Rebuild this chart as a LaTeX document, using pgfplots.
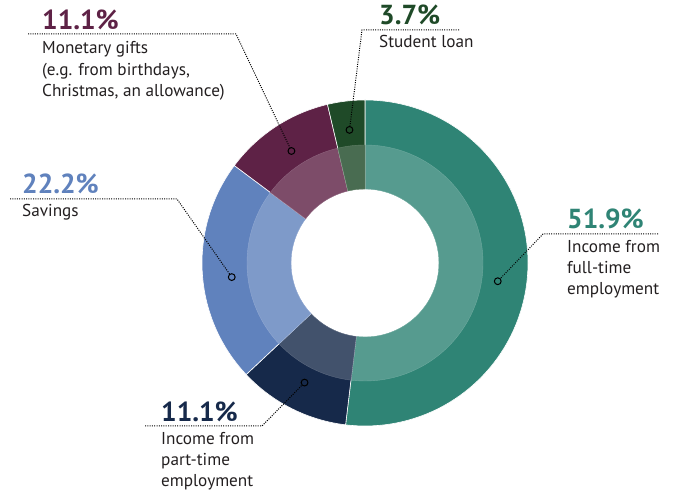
\documentclass[border=0pt]{standalone}
\usepackage{pgfplots}
\pgfplotsset{compat=1.18}
\usepackage{pgfplotstable}
\usepackage{fontspec}
\setmainfont{PT Sans}
\definecolor{col0}{RGB}{47,132,117}
\definecolor{col1}{RGB}{22,41,74}
\definecolor{col2}{RGB}{96,130,189}
\definecolor{col3}{RGB}{94,34,70}
\definecolor{col4}{RGB}{31,74,40}
\definecolor{txt}{RGB}{35,31,32}
\pgfplotstableread{
label value doff
fulltime 51.9 -4.4
parttime 11.1 0
savings 22.2 2.8
gifts 11.1 0
loan 3.7 0
}\piedata
\newcommand{\pct}[1]{\fontsize{27.5}{30}\selectfont\bfseries #1}
\newcommand{\lbl}{\fontsize{17.2}{20}\selectfont\color{txt}}
\begin{document}
\begin{tikzpicture}
\def\cum{0}
\pgfplotsforeachungrouped \k in {0,...,4}{%
  \pgfplotstablegetelem{\k}{value}\of\piedata
  \pgfmathsetmacro\a{90-3.6*\cum}%
  \pgfmathsetmacro\cumnew{\cum+\pgfplotsretval}%
  \pgfmathsetmacro\b{90-3.6*\cumnew}%
  \pgfplotstablegetelem{\k}{doff}\of\piedata
  \pgfmathsetmacro\m{(\a+\b)/2+\pgfplotsretval}%
  \expandafter\xdef\csname sa\k\endcsname{\a}%
  \expandafter\xdef\csname sb\k\endcsname{\b}%
  \expandafter\xdef\csname sm\k\endcsname{\m}%
  \xdef\cum{\cumnew}%
}
\begin{axis}[scale only axis, width=678pt, height=492pt,
  xmin=0, xmax=678, ymin=0, ymax=492, hide axis, clip=false]
\path (axis cs:0,0) rectangle (axis cs:678,492);
\begin{scope}[shift={(axis cs:365,229)}]
\pgfplotsinvokeforeach{0,...,4}{
  \fill[col#1, draw=white, line width=0.6pt]
    (\csname sa#1\endcsname:163pt)
    arc[start angle=\csname sa#1\endcsname, end angle=\csname sb#1\endcsname, radius=163pt]
    -- (\csname sb#1\endcsname:74pt)
    arc[start angle=\csname sb#1\endcsname, end angle=\csname sa#1\endcsname, radius=74pt]
    -- cycle;
  \fill[col#1!81!white, draw=col#1!70!white, line width=0.4pt]
    (\csname sa#1\endcsname:118pt)
    arc[start angle=\csname sa#1\endcsname, end angle=\csname sb#1\endcsname, radius=118pt]
    -- (\csname sb#1\endcsname:74pt)
    arc[start angle=\csname sb#1\endcsname, end angle=\csname sa#1\endcsname, radius=74pt]
    -- cycle;
  \coordinate (dot#1) at (\csname sm#1\endcsname:134pt);
}
\end{scope}
\begin{scope}[black, line width=1pt, dash pattern=on 1pt off 1.3pt]
\draw (axis cs:658,258) -- (axis cs:543,258) -- (dot0);
\draw (axis cs:145,66) -- (axis cs:262,66) -- (dot1);
\draw (axis cs:10,293) -- (axis cs:177,293) -- (dot2);
\draw (axis cs:28,458) -- (axis cs:236,458) -- (dot3);
\draw (axis cs:459,462) -- (axis cs:362,462) -- (dot4);
\end{scope}
\pgfplotsinvokeforeach{0,...,4}{
  \draw[black, line width=1pt, fill=col#1] (dot#1) circle[radius=3.4pt];
}
% labels
\node[anchor=base west, inner sep=0pt, text=col0] at (axis cs:567,263) {\pct{51.9\%}};
\node[anchor=base west, inner sep=0pt] at (axis cs:567,239) {\lbl Income from};
\node[anchor=base west, inner sep=0pt] at (axis cs:567,218) {\lbl full-time};
\node[anchor=base west, inner sep=0pt] at (axis cs:567,197) {\lbl employment};
\node[anchor=base west, inner sep=0pt, text=col1] at (axis cs:161,70) {\pct{11.1\%}};
\node[anchor=base west, inner sep=0pt] at (axis cs:161,47) {\lbl Income from};
\node[anchor=base west, inner sep=0pt] at (axis cs:161,26) {\lbl part-time};
\node[anchor=base west, inner sep=0pt] at (axis cs:161,5) {\lbl employment};
\node[anchor=base west, inner sep=0pt, text=col2] at (axis cs:22,298) {\pct{22.2\%}};
\node[anchor=base west, inner sep=0pt] at (axis cs:22,275) {\lbl Savings};
\node[anchor=base west, inner sep=0pt, text=col3] at (axis cs:42,462) {\pct{11.1\%}};
\node[anchor=base west, inner sep=0pt] at (axis cs:42,438) {\lbl Monetary gifts};
\node[anchor=base west, inner sep=0pt] at (axis cs:42,416) {\lbl (e.g. from birthdays,};
\node[anchor=base west, inner sep=0pt] at (axis cs:42,395) {\lbl Christmas, an allowance)};
\node[anchor=base west, inner sep=0pt, text=col4] at (axis cs:379,467) {\pct{3.7\%}};
\node[anchor=base west, inner sep=0pt] at (axis cs:379,444) {\lbl Student loan};
\end{axis}
\end{tikzpicture}
\end{document}
